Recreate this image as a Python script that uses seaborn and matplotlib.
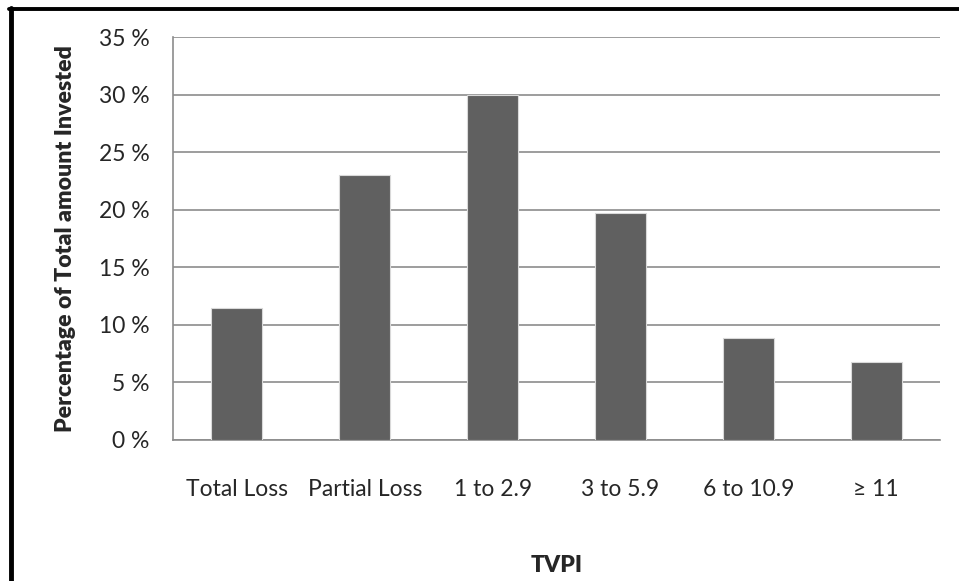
import matplotlib
matplotlib.use("Agg")
import matplotlib.pyplot as plt
import matplotlib.lines as mlines
import seaborn as sns
import pandas as pd

categories = ["Total Loss", "Partial Loss", "1 to 2.9", "3 to 5.9", "6 to 10.9", "\u2265 11"]
shares = [11.5, 23.0, 30.0, 19.7, 8.9, 6.8]
y_ticks = [0, 5, 10, 15, 20, 25, 30, 35]
y_tick_labels = [f"{v} %" for v in y_ticks]

sns.set_style("white")
plt.rcParams["font.family"] = ["Lato", "DejaVu Sans"]

df = pd.DataFrame({"TVPI": categories, "share": shares})

W, H = 959, 581
fig = plt.figure(figsize=(W / 100, H / 100), dpi=100)
ax = fig.add_axes([173 / W, 1 - 440 / H, (940 - 173) / W, (440 - 37) / H])

sns.barplot(data=df, x="TVPI", y="share", color="#606060", width=0.4,
            saturation=1, edgecolor="#d9d9d9", linewidth=0.8, ax=ax, zorder=3)

ax.set_ylim(0, 35)
ax.set_xlim(-0.5, len(categories) - 0.5)
ax.set_yticks(y_ticks)
ax.set_yticklabels(y_tick_labels, fontsize=16.5)
ax.yaxis.grid(True, color="#8c8c8c", linewidth=1.2, zorder=0)
ax.set_axisbelow(True)

for side in ["top", "right"]:
    ax.spines[side].set_visible(False)
for side in ["left", "bottom"]:
    ax.spines[side].set_color("#8c8c8c")
    ax.spines[side].set_linewidth(1.2)

# category ticks sit between the bars
ax.set_xticks([i - 0.5 for i in range(len(categories) + 1)], minor=True)
ax.tick_params(axis="x", which="minor", length=8, width=1.2, color="#8c8c8c", direction="out")
ax.tick_params(axis="x", which="major", length=0, pad=28, labelsize=16.5)
ax.tick_params(axis="y", which="major", length=6, width=1.2, color="#8c8c8c", direction="out", pad=11)

ax.set_xlabel("TVPI", fontsize=16.5, fontweight="heavy", labelpad=40)
ax.set_ylabel("Percentage of Total amount Invested", fontsize=16.6, fontweight="heavy", labelpad=16)

# frame lines along the top and left edges of the figure
fig.add_artist(mlines.Line2D([10.5 / W, 10.5 / W], [0, 1 - 8 / H], color="black", linewidth=3.5,
                             transform=fig.transFigure))
fig.add_artist(mlines.Line2D([9 / W, 1], [1 - 8.5 / H, 1 - 8.5 / H], color="black", linewidth=2.8,
                             transform=fig.transFigure))

fig.savefig("out.png", dpi=100)
